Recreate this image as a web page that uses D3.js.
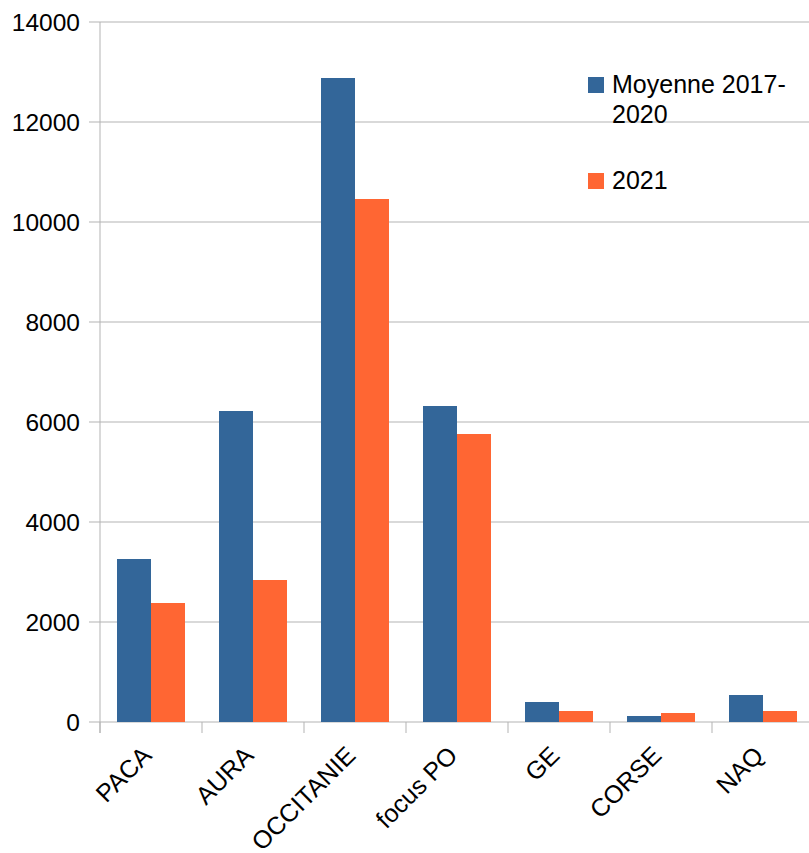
<html>
<head>
<script src="https://d3js.org/d3.v7.min.js"></script>
<style>
body { margin: 0; background: #fff; }
text { font-family: "Liberation Sans", Arial, sans-serif; fill: #000; }
</style>
</head>
<body>
<div id="chart"></div>
<script>
var categories = ["PACA", "AURA", "OCCITANIE", "focus PO", "GE", "CORSE", "NAQ"];
var seriesNames = ["Moyenne 2017-2020", "2021"];
var moyenne = [3260, 6220, 12880, 6320, 400, 120, 540];
var y2021 = [2380, 2840, 10460, 5760, 220, 180, 220];
var yTicks = [0, 2000, 4000, 6000, 8000, 10000, 12000, 14000];
var colors = ["#336699", "#ff6633"];

var W = 809, H = 853;
var svg = d3.select("#chart").append("svg").attr("width", W).attr("height", H);

var x0 = d3.scaleBand().domain(categories).range([100, 814]);
var x1 = d3.scaleBand().domain(seriesNames).range([17, 85]);
var y = d3.scaleLinear().domain([0, 14000]).range([722, 22]);

// gridlines
svg.selectAll("line.grid").data(yTicks).enter().append("line")
	.attr("x1", 89).attr("x2", W)
	.attr("y1", function(d) { return y(d); })
	.attr("y2", function(d) { return y(d); })
	.attr("stroke", "#b3b3b3").attr("stroke-width", 1);

// y labels
svg.selectAll("text.ylab").data(yTicks).enter().append("text")
	.attr("x", 80).attr("y", function(d) { return y(d) + 9; })
	.attr("text-anchor", "end").style("font-size", "24.5px")
	.text(function(d) { return d; });

// y axis line
svg.append("line").attr("x1", 100).attr("x2", 100).attr("y1", 22).attr("y2", 733)
	.attr("stroke", "#b3b3b3");

// category ticks
svg.selectAll("line.xt").data(categories).enter().append("line")
	.attr("x1", function(d) { return x0(d); }).attr("x2", function(d) { return x0(d); })
	.attr("y1", 722).attr("y2", 733).attr("stroke", "#b3b3b3");

// bars
var rows = categories.map(function(c, i) { return { cat: c, vals: [moyenne[i], y2021[i]] }; });
var g = svg.selectAll("g.cat").data(rows).enter().append("g")
	.attr("transform", function(d) { return "translate(" + x0(d.cat) + ",0)"; });
g.selectAll("rect").data(function(d) { return d.vals.map(function(v, j) { return { s: seriesNames[j], v: v, j: j }; }); })
	.enter().append("rect")
	.attr("x", function(d) { return x1(d.s); })
	.attr("width", x1.bandwidth())
	.attr("y", function(d) { return y(d.v); })
	.attr("height", function(d) { return y(0) - y(d.v); })
	.attr("fill", function(d) { return colors[d.j]; });

// x labels
svg.selectAll("text.xlab").data(categories).enter().append("text")
	.attr("text-anchor", "end").style("font-size", "25px")
	.attr("transform", function(d) { return "translate(" + (x0(d) + x0.bandwidth() / 2 + 2) + ",757) rotate(-45)"; })
	.text(function(d) { return d; });

// legend
var leg = [{ n: ["Moyenne 2017-", "2020"], y: 77 }, { n: ["2021"], y: 173 }];
leg.forEach(function(l, i) {
	svg.append("rect").attr("x", 588).attr("y", l.y).attr("width", 16).attr("height", 16).attr("fill", colors[i]);
	l.n.forEach(function(t, k) {
		svg.append("text").attr("x", 612).attr("y", l.y + 16 + k * 30).style("font-size", "25px").text(t);
	});
});
</script>
</body>
</html>
